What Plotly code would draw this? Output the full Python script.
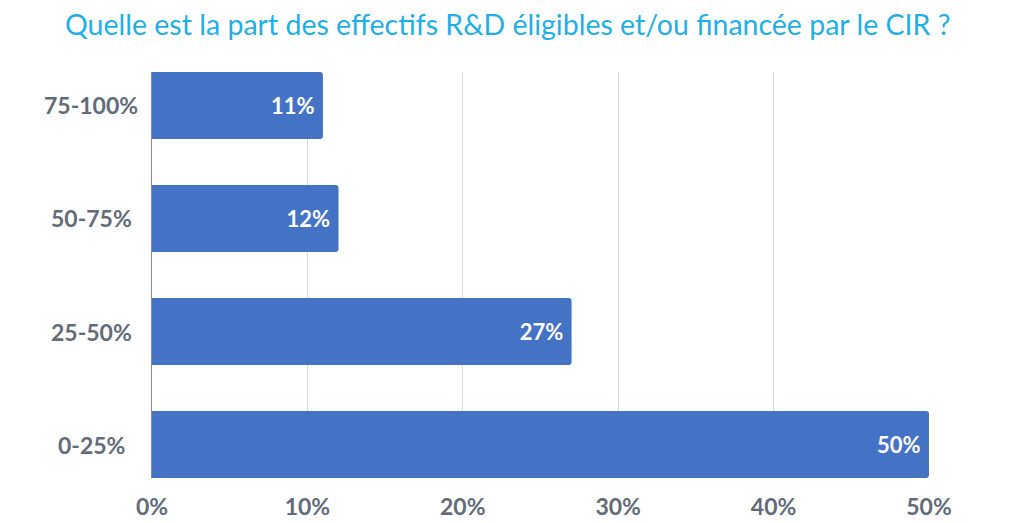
import plotly.graph_objects as go

categories = ["0-25%", "25-50%", "50-75%", "75-100%"]
values = [50, 27, 12, 11]
x_ticks = [0, 10, 20, 30, 40, 50]
x_tick_labels = ["0%", "10%", "20%", "30%", "40%", "50%"]
title_text = "Quelle est la part des effectifs R&D éligibles et/ou financée par le CIR ?"

bar_labels = [f"{v}%\u00a0" for v in values]

fig = go.Figure()
fig.add_trace(go.Bar(
    y=categories,
    x=values,
    orientation="h",
    marker=dict(color="#4472C4", cornerradius=3, line=dict(width=0)),
    text=bar_labels,
    texttemplate="%{text}",
    textposition="inside",
    insidetextanchor="end",
    textangle=0,
    constraintext="none",
    textfont=dict(family="Lato", size=22, color="white", weight="bold"),
    hoverinfo="skip",
))

for c in categories:
    fig.add_annotation(
        x=-0.0785, xref="paper", y=c, yref="y",
        text=c, showarrow=False, xanchor="center", yanchor="middle",
        font=dict(family="Lato", size=23, color="#636B78", weight="bold"),
    )

fig.update_layout(
    width=1024, height=523,
    margin=dict(l=144, r=103, t=64, b=53),
    paper_bgcolor="white", plot_bgcolor="white",
    bargap=0.407,
    showlegend=False,
    title=dict(text=title_text, x=0.488, xanchor="center", y=0.968, yanchor="middle",
               font=dict(family="Lato", size=28.5, color="#1FAEE6")),
)
fig.update_xaxes(
    range=[0, 50], tickvals=x_ticks, ticktext=x_tick_labels,
    showgrid=True, gridcolor="#D9D9D9", gridwidth=1, zeroline=False,
    ticks="outside", ticklen=8, tickcolor="rgba(0,0,0,0)",
    tickfont=dict(family="Lato", size=23, color="#636B78", weight="bold"),
    fixedrange=True,
)
fig.update_yaxes(
    range=[-0.296, 3.296], showticklabels=False, showgrid=False,
    showline=True, linecolor="#8C8C8C", linewidth=1, zeroline=False,
    fixedrange=True,
)

fig.write_html("out.html")
